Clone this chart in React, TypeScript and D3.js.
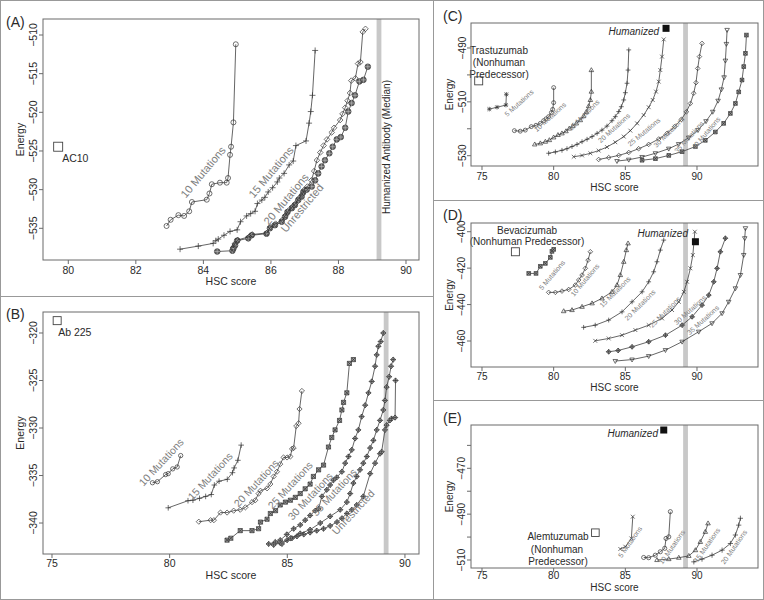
import React from "react";
import * as d3 from "d3";

type P = [number, number];

// ---------------- Panel A data ----------------
const A_ac10: P = [79.7, -524.45];
const A_mut10: P[] = [[82.91,-534.7],[83.03,-533.9],[83.26,-533.3],[83.43,-533.4],[83.58,-532.8],[83.66,-531.6],[84.1,-531.3],[84.18,-530.5],[84.25,-529.3],[84.49,-529.1],[84.69,-529.1],[84.73,-528.5],[84.79,-525.5],[84.82,-524.45],[84.89,-521.3],[84.96,-511.2]];
const A_mut15: P[] = [[83.31,-537.7],[83.85,-537.3],[84.29,-536.95],[84.37,-536.6],[84.44,-536.4],[84.61,-535.9],[84.79,-535.4],[85.0,-535.2],[85.1,-534.15],[85.28,-533.4],[85.4,-533.1],[85.53,-532.8],[85.6,-531.8],[85.73,-531.35],[85.82,-531.0],[85.92,-530.3],[86.05,-529.75],[86.19,-529.0],[86.25,-528.5],[86.39,-527.9],[86.54,-526.8],[86.66,-526.3],[86.74,-524.3],[87.04,-523.7],[87.13,-521.4],[87.18,-519.9],[87.23,-517.8],[87.31,-512.0]];
const A_mut20: P[] = [[84.88,-537.5],[84.93,-537.0],[85.02,-536.5],[85.35,-536.1],[85.45,-535.8],[85.88,-535.6],[85.99,-534.8],[86.14,-534.4],[86.34,-533.9],[86.44,-533.3],[86.52,-532.7],[86.64,-532.2],[86.73,-531.8],[86.83,-531.1],[86.93,-530.6],[86.99,-530.0],[87.08,-529.6],[87.2,-528.8],[87.28,-527.6],[87.36,-526.2],[87.46,-525.2],[87.56,-524.3],[87.66,-523.5],[87.8,-522.6],[87.87,-522.0],[88.05,-521.0],[88.12,-520.2],[88.2,-519.4],[88.27,-518.5],[88.34,-517.5],[88.38,-515.9],[88.5,-515.6],[88.58,-513.7],[88.65,-513.5],[88.72,-509.6],[88.8,-509.2]];
const A_unres: P[] = [[84.41,-538.0],[84.86,-537.9],[84.89,-537.6],[84.94,-537.2],[85.0,-536.6],[85.33,-536.3],[85.43,-535.9],[85.87,-535.7],[85.97,-535.0],[86.12,-534.6],[86.32,-534.15],[86.42,-533.5],[86.49,-532.9],[86.62,-532.4],[86.71,-532.0],[86.81,-531.35],[86.91,-530.9],[86.96,-530.3],[87.06,-530.0],[87.21,-529.6],[87.31,-528.8],[87.4,-527.9],[87.5,-527.0],[87.6,-526.2],[87.73,-525.3],[87.83,-524.45],[87.95,-523.5],[88.07,-523.2],[88.2,-522.0],[88.29,-519.9],[88.39,-518.8],[88.49,-517.8],[88.62,-516.0],[88.74,-515.8],[88.87,-514.1]];

// ---------------- Panel B data ----------------
const B_ab225: P = [75.22, -318.7];
const B_mut10: P[] = [[79.27,-335.76],[79.48,-335.65],[79.83,-334.9],[79.94,-334.8],[80.13,-334.3],[80.32,-334.1],[80.47,-332.9]];
const B_mut15: P[] = [[79.94,-338.4],[80.78,-337.65],[80.99,-337.6],[81.27,-337.4],[81.53,-337.2],[81.77,-337.0],[81.9,-336.0],[82.1,-335.6],[82.45,-335.4],[82.67,-334.7],[82.74,-334.2],[82.9,-333.4],[83.04,-331.8]];
const B_mut20: P[] = [[81.24,-339.86],[81.74,-339.7],[81.88,-339.7],[82.16,-338.9],[82.44,-338.9],[82.72,-338.7],[83.0,-338.6],[83.22,-338.35],[83.5,-337.8],[83.64,-337.6],[83.78,-336.9],[83.86,-336.6],[84.14,-336.35],[84.28,-335.9],[84.42,-335.1],[84.56,-334.6],[84.7,-333.8],[84.84,-333.1],[84.99,-333.1],[85.13,-333.0],[85.2,-332.2],[85.27,-332.1],[85.38,-329.8],[85.48,-329.5],[85.52,-328.0],[85.62,-326.1]];
const B_mut25: P[] = [[82.44,-341.8],[82.6,-341.6],[83.0,-340.8],[83.5,-340.8],[83.78,-340.6],[83.86,-339.9],[84.14,-339.6],[84.28,-339.0],[84.5,-338.7],[84.7,-338.1],[84.92,-337.8],[85.13,-337.6],[85.34,-337.3],[85.55,-336.9],[85.76,-336.4],[85.97,-335.9],[86.11,-335.1],[86.33,-334.4],[86.54,-333.9],[86.75,-332.0],[86.89,-331.0],[87.03,-330.2],[87.22,-329.2],[87.32,-328.1],[87.39,-327.3],[87.53,-326.3],[87.64,-323.2],[87.81,-322.8]];
const B_mut30: P[] = [[84.21,-342.2],[84.49,-342.0],[84.7,-341.8],[84.98,-341.2],[85.27,-340.6],[85.55,-340.2],[85.76,-339.7],[85.97,-339.2],[86.19,-338.7],[86.33,-338.5],[86.47,-337.2],[86.68,-336.5],[86.82,-336.0],[86.96,-335.5],[87.1,-335.2],[87.32,-334.6],[87.46,-333.7],[87.6,-333.0],[87.74,-332.3],[87.88,-331.1],[88.02,-330.2],[88.16,-328.8],[88.31,-327.6],[88.45,-326.3],[88.59,-325.1],[88.73,-323.5],[88.8,-322.3],[88.87,-321.4],[88.97,-320.9],[89.08,-320.0]];
const B_mut35: P[] = [[84.77,-342.2],[85.13,-341.6],[85.55,-341.1],[85.97,-340.7],[86.4,-340.0],[86.82,-339.3],[87.25,-338.6],[87.53,-337.8],[87.67,-336.9],[87.81,-335.8],[87.95,-335.1],[88.09,-334.4],[88.23,-333.7],[88.38,-333.0],[88.52,-332.1],[88.66,-331.3],[88.8,-330.2],[88.94,-329.2],[89.08,-328.1],[89.15,-327.1],[89.22,-325.7],[89.33,-324.6],[89.41,-323.5],[89.5,-322.8]];
const B_unres: P[] = [[84.42,-342.3],[84.7,-342.1],[84.99,-341.8],[85.2,-341.6],[85.41,-341.4],[85.7,-341.2],[85.97,-341.0],[86.25,-340.8],[86.54,-340.6],[86.82,-340.3],[87.11,-339.9],[87.32,-339.5],[87.53,-339.0],[87.74,-338.6],[87.95,-338.1],[88.23,-337.2],[88.52,-334.8],[88.73,-333.7],[88.94,-332.7],[89.01,-332.5],[89.15,-330.2],[89.22,-329.7],[89.36,-329.2],[89.43,-329.0],[89.58,-328.9],[89.6,-325.0]];

// ---------------- Panel C data ----------------
const C_trast: P = [74.77, -502.2];
const C_human: P = [87.84, -482.7];
const C_mut5: P[] = [[75.51,-512.7],[76.05,-512.0],[76.67,-511.2],[76.7,-507.2]];
const C_mut10: P[] = [[77.26,-520.7],[77.67,-520.9],[78.02,-520.5],[78.44,-519.2],[78.77,-518.7],[79.07,-518.0],[79.3,-517.0],[79.47,-516.3],[79.65,-515.5],[79.84,-514.0],[79.93,-512.8],[80.0,-510.3],[80.0,-504.7]];
const C_mut15: P[] = [[78.68,-525.8],[79.07,-525.4],[79.42,-524.8],[79.7,-524.2],[80.0,-523.2],[80.3,-522.3],[80.58,-521.7],[80.86,-520.9],[81.09,-519.9],[81.33,-519.0],[81.58,-518.0],[81.86,-516.8],[82.09,-515.3],[82.28,-513.7],[82.44,-511.6],[82.56,-509.3],[82.63,-506.2],[82.63,-498.2]];
const C_mut20: P[] = [[79.65,-529.1],[80.12,-528.6],[80.58,-528.0],[80.93,-527.4],[81.28,-526.6],[81.63,-525.8],[81.98,-524.8],[82.33,-523.9],[82.68,-522.9],[83.03,-521.7],[83.37,-520.5],[83.72,-519.0],[84.07,-517.0],[84.3,-515.5],[84.54,-513.6],[84.72,-511.8],[84.89,-509.3],[85.0,-506.6],[85.12,-503.1],[85.19,-498.2],[85.24,-490.7]];
const C_mut25: P[] = [[81.4,-530.4],[81.98,-529.9],[82.56,-529.1],[83.14,-528.1],[83.72,-526.8],[84.3,-525.0],[84.89,-522.9],[85.35,-520.7],[85.82,-518.0],[86.28,-514.9],[86.63,-512.0],[86.91,-509.3],[87.14,-506.2],[87.33,-502.5],[87.44,-498.2],[87.56,-493.2],[87.68,-486.8]];
const C_mut30: P[] = [[83.14,-531.4],[83.84,-530.7],[84.54,-529.9],[85.24,-528.8],[85.93,-527.4],[86.63,-525.8],[87.33,-523.8],[87.91,-521.7],[88.45,-519.2],[88.91,-516.5],[89.26,-513.7],[89.54,-510.6],[89.77,-506.8],[89.93,-502.9],[90.05,-497.6],[90.17,-493.2],[90.35,-488.3]];
const C_mut35: P[] = [[84.42,-532.0],[85.24,-531.5],[86.17,-530.5],[87.1,-529.1],[88.03,-527.4],[88.72,-525.7],[89.42,-523.3],[90.07,-520.5],[90.63,-517.2],[91.1,-513.7],[91.47,-509.6],[91.7,-505.4],[91.89,-500.9],[91.98,-494.7],[92.05,-488.5],[92.1,-483.3]];
const C_mut40: P[] = [[86.17,-531.7],[87.1,-531.1],[88.03,-529.9],[88.96,-528.5],[89.89,-526.6],[90.58,-524.3],[91.28,-521.2],[91.86,-518.0],[92.33,-514.3],[92.68,-510.6],[92.91,-506.3],[93.14,-501.9],[93.26,-496.9],[93.38,-492.0],[93.45,-485.2]];

// ---------------- Panel D data ----------------
const D_bev: P = [77.33, -411.0];
const D_human: P = [89.89, -405.5];
const D_mut5: P[] = [[78.26,-422.9],[78.77,-422.9],[79.07,-419.0],[79.42,-417.4],[79.77,-414.1],[79.88,-410.8],[80.0,-409.7]];
const D_mut10: P[] = [[79.65,-433.3],[80.12,-433.3],[80.58,-432.6],[81.05,-431.7],[81.51,-429.3],[81.75,-426.5],[81.98,-423.8],[82.21,-420.1],[82.4,-415.6],[82.56,-411.0]];
const D_mut15: P[] = [[80.7,-443.6],[81.28,-443.0],[81.98,-441.2],[82.68,-439.3],[83.37,-436.6],[84.07,-433.0],[84.42,-429.3],[84.65,-423.8],[84.89,-416.5],[85.07,-410.1],[85.19,-406.4]];
const D_mut20: P[] = [[82.09,-452.5],[82.9,-451.3],[83.84,-448.5],[84.77,-444.0],[85.47,-438.5],[86.17,-433.0],[86.63,-427.5],[86.98,-422.0],[87.21,-416.5],[87.44,-410.1],[87.68,-404.6]];
const D_mut25: P[] = [[82.9,-459.9],[83.84,-458.6],[84.77,-456.8],[85.7,-454.0],[86.63,-451.3],[87.56,-447.6],[88.26,-443.0],[88.73,-438.5],[89.08,-433.0],[89.31,-427.5],[89.54,-420.1],[89.71,-412.8],[89.85,-400.0]];
const D_mut30: P[] = [[83.84,-465.9],[84.5,-465.2],[85.47,-463.2],[86.63,-460.4],[87.8,-456.8],[88.96,-451.3],[89.66,-446.7],[90.35,-440.3],[90.82,-434.8],[91.17,-427.5],[91.4,-420.1],[91.63,-411.0],[91.98,-403.6]];
const D_mut35: P[] = [[84.3,-471.0],[85.47,-470.2],[86.63,-468.3],[87.8,-465.0],[88.96,-460.4],[90.12,-454.9],[91.05,-450.3],[91.75,-444.8],[92.21,-438.5],[92.68,-431.1],[93.03,-423.8],[93.26,-412.8],[93.33,-403.6],[93.38,-398.1]];

// ---------------- Panel E data ----------------
const E_alem: P = [82.91, -498.1];
const E_human: P = [87.68, -453.3];
const E_mut5: P[] = [[84.65,-505.2],[85.0,-504.2],[85.42,-500.6],[85.52,-491.1]];
const E_mut10: P[] = [[86.28,-508.9],[86.63,-509.0],[87.09,-507.9],[87.44,-506.4],[87.75,-504.9],[87.84,-500.6],[88.03,-499.9],[88.14,-488.9]];
const E_mut15: P[] = [[87.21,-510.0],[88.03,-509.6],[88.73,-509.0],[89.43,-508.2],[89.89,-505.7],[90.23,-502.1],[90.58,-497.7],[90.77,-494.0]];
const E_mut20: P[] = [[89.78,-510.8],[90.35,-509.6],[91.05,-507.9],[91.75,-505.7],[92.33,-502.8],[92.68,-499.1],[92.91,-494.8],[93.03,-491.8]];

// Tick values
const A_xTicks = [80, 82, 84, 86, 88, 90];
const A_yTicks = [-535, -530, -525, -520, -515, -510];
const B_xTicks = [75, 80, 85, 90];
const B_yTicks = [-340, -335, -330, -325, -320];
const R_xTicks = [75, 80, 85, 90];
const C_yTicks = [-530, -520, -510, -500, -490];
const C_yLabels = [-530, -510, -490];
const D_yTicks = [-460, -440, -420, -400];
const E_yTicks = [-510, -500, -490, -480, -470, -460];
const E_yLabels = [-510, -490, -470];
const HUMAN_MEDIAN = 89.2;

const FONT = '"Liberation Sans", Arial, Helvetica, sans-serif';
const INK = "#2a2a2a";
const GRAYTXT = "#7d7d7d";

type MType = "circle" | "plus" | "cross" | "star" | "diamond" | "triangle" | "tridown" | "sqx" | "diamondplus" | "circleplus" | "dcircle";

function Marker({ t, x, y, s }: { t: MType; x: number; y: number; s: number }) {
  const st = { stroke: "#333", strokeWidth: 0.7, fill: "none" } as any;
  const plus = `M${x - s},${y}H${x + s}M${x},${y - s}V${y + s}`;
  const cross = `M${x - s * 0.8},${y - s * 0.8}L${x + s * 0.8},${y + s * 0.8}M${x - s * 0.8},${y + s * 0.8}L${x + s * 0.8},${y - s * 0.8}`;
  const diamond = `M${x},${y - s}L${x + s},${y}L${x},${y + s}L${x - s},${y}Z`;
  switch (t) {
    case "circle":
      return <circle cx={x} cy={y} r={s * 0.9} {...st} />;
    case "plus":
      return <path d={plus} {...st} />;
    case "cross":
      return <path d={cross} {...st} />;
    case "star":
      return <path d={plus + cross} {...st} />;
    case "diamond":
      return <path d={diamond} {...st} />;
    case "triangle":
      return <path d={`M${x},${y - s}L${x + s * 0.95},${y + s * 0.65}L${x - s * 0.95},${y + s * 0.65}Z`} {...st} />;
    case "tridown":
      return <path d={`M${x},${y + s}L${x + s * 0.95},${y - s * 0.65}L${x - s * 0.95},${y - s * 0.65}Z`} {...st} />;
    case "sqx":
      return <path d={`M${x - s * 0.8},${y - s * 0.8}h${s * 1.6}v${s * 1.6}h${-s * 1.6}Z` + cross} {...st} fill="#999" />;
    case "diamondplus":
      return <path d={diamond + plus} {...st} fill="#aaa" />;
    case "circleplus":
      return (
        <g>
          <circle cx={x} cy={y} r={s} {...st} fill="#666" />
          <path d={plus} stroke="#ccc" strokeWidth={0.5} />
        </g>
      );
    case "dcircle":
      return <circle cx={x} cy={y} r={s * 0.9} {...st} fill="#888" />;
  }
  return null;
}

type Series = { pts: P[]; m: MType; s: number };
type Lbl = { text: string; x: number; y: number; rot: number; fs: number };

interface PanelProps {
  box: { l: number; t: number; r: number; b: number };
  xDom: [number, number];
  yDom: [number, number];
  xTicks: number[];
  yTicks: number[];
  yLabels: number[];
  series: Series[];
  labels: Lbl[];
  xLabY: number;
  xTitleY: number;
  yLabX: number;
  yTitleX: number;
  fs: number;
  children?: (x: d3.ScaleLinear<number, number>, y: d3.ScaleLinear<number, number>) => React.ReactNode;
}

function Panel(p: PanelProps) {
  const { box } = p;
  const x = d3.scaleLinear().domain(p.xDom).range([box.l, box.r]);
  const y = d3.scaleLinear().domain(p.yDom).range([box.b, box.t]);
  const line = d3.line<P>().x((d) => x(d[0])).y((d) => y(d[1]));
  const fmt = d3.format("d");
  const bx = x(HUMAN_MEDIAN);
  return (
    <g fontFamily={FONT}>
      <rect x={bx - 2.4} y={box.t} width={4.8} height={box.b - box.t} fill="#c8c8c8" />
      {p.series.map((s, i) => (
        <g key={i}>
          <path d={line(s.pts) || ""} fill="none" stroke="#333" strokeWidth={0.75} />
          {s.pts.map((d, j) => (
            <Marker key={j} t={s.m} x={x(d[0])} y={y(d[1])} s={s.s} />
          ))}
        </g>
      ))}
      {p.labels.map((l, i) => (
        <text key={i} x={l.x} y={l.y} fontSize={l.fs} fill={GRAYTXT} textAnchor="middle" dominantBaseline="central" transform={`rotate(${l.rot},${l.x},${l.y})`}>
          {l.text}
        </text>
      ))}
      {p.children && p.children(x, y)}
      <rect x={box.l} y={box.t} width={box.r - box.l} height={box.b - box.t} fill="none" stroke="#6a6a6a" strokeWidth={1} />
      {p.xTicks.map((v) => (
        <g key={"x" + v}>
          <line x1={x(v)} x2={x(v)} y1={box.b} y2={box.b + 4} stroke="#6a6a6a" />
          <text x={x(v)} y={p.xLabY} fontSize={p.fs} fill={INK} textAnchor="middle">{fmt(v)}</text>
        </g>
      ))}
      {p.yTicks.map((v) => (
        <g key={"y" + v}>
          <line x1={box.l - 4} x2={box.l} y1={y(v)} y2={y(v)} stroke="#6a6a6a" />
          {p.yLabels.includes(v) && (
            <text x={p.yLabX} y={y(v)} fontSize={p.fs} fill={INK} textAnchor="middle" transform={`rotate(-90,${p.yLabX},${y(v)})`}>{fmt(v)}</text>
          )}
        </g>
      ))}
      <text x={(box.l + box.r) / 2} y={p.xTitleY} fontSize={p.fs} fill={INK} textAnchor="middle">HSC score</text>
      <text x={p.yTitleX} y={(box.t + box.b) / 2} fontSize={p.fs} fill={INK} textAnchor="middle" transform={`rotate(-90,${p.yTitleX},${(box.t + box.b) / 2})`}>Energy</text>
    </g>
  );
}

function OpenSq({ x, y, s }: { x: number; y: number; s: number }) {
  return <rect x={x - s} y={y - s} width={2 * s} height={2 * s} fill="none" stroke="#444" strokeWidth={0.9} />;
}
function FillSq({ x, y, s }: { x: number; y: number; s: number }) {
  return <rect x={x - s} y={y - s} width={2 * s} height={2 * s} fill="#111" />;
}

export default function App() {
  const W = 764, H = 600;
  const mutLbl = (n: number) => `${n} Mutations`;
  return (
    <svg width={W} height={H} style={{ position: "absolute", left: 0, top: 0, background: "#fff" }}>
      <rect x={0.5} y={0.5} width={W - 1} height={H - 1} fill="#fff" stroke="#999" />
      <line x1={433.5} x2={433.5} y1={0} y2={H} stroke="#999" />
      <line x1={0} x2={433.5} y1={296.5} y2={296.5} stroke="#999" />
      <line x1={433.5} x2={W} y1={200.5} y2={200.5} stroke="#999" />
      <line x1={433.5} x2={W} y1={400.5} y2={400.5} stroke="#999" />

      {/* Panel A */}
      <Panel
        box={{ l: 43, t: 19, r: 419, b: 260 }}
        xDom={[79.251, 90.385]}
        yDom={[-539.1, -507.93]}
        xTicks={A_xTicks}
        yTicks={A_yTicks}
        yLabels={A_yTicks}
        series={[
          { pts: A_mut10, m: "circle", s: 2.8 },
          { pts: A_mut15, m: "plus", s: 3 },
          { pts: A_unres, m: "circleplus", s: 2.8 },
          { pts: A_mut20, m: "diamond", s: 2.8 },
        ]}
        labels={[
          { text: mutLbl(10), x: 203, y: 172, rot: -50, fs: 11 },
          { text: mutLbl(15), x: 271, y: 172, rot: -50, fs: 11 },
          { text: mutLbl(20), x: 286, y: 199, rot: -50, fs: 11 },
          { text: "Unrestricted", x: 302, y: 208, rot: -50, fs: 11 },
        ]}
        xLabY={273.5}
        xTitleY={285}
        yLabX={37}
        yTitleX={24}
        fs={10.5}
      >
        {(x, y) => (
          <g>
            <OpenSq x={x(A_ac10[0])} y={y(A_ac10[1])} s={4.5} />
            <text x={x(A_ac10[0]) + 4} y={y(A_ac10[1]) + 15} fontSize={10.5} fill={INK}>AC10</text>
            <text x={x(HUMAN_MEDIAN) + 11} y={147} fontSize={10} fill={INK} textAnchor="middle" transform={`rotate(-90,${x(HUMAN_MEDIAN) + 11},147)`}>
              Humanized Antibody (Median)
            </text>
          </g>
        )}
      </Panel>
      <text x={6} y={27} fontSize={14} fontFamily={FONT} fill={INK}>(A)</text>

      {/* Panel B */}
      <Panel
        box={{ l: 43, t: 312, r: 419, b: 554 }}
        xDom={[74.618, 90.597]}
        yDom={[-343.26, -317.79]}
        xTicks={B_xTicks}
        yTicks={B_yTicks}
        yLabels={B_yTicks}
        series={[
          { pts: B_mut10, m: "circle", s: 2.4 },
          { pts: B_mut15, m: "plus", s: 2.8 },
          { pts: B_mut20, m: "diamond", s: 2.6 },
          { pts: B_mut25, m: "sqx", s: 2.6 },
          { pts: B_mut30, m: "diamondplus", s: 2.6 },
          { pts: B_unres, m: "diamondplus", s: 2.6 },
          { pts: B_mut35, m: "diamondplus", s: 2.6 },
        ]}
        labels={[
          { text: mutLbl(10), x: 161, y: 462, rot: -47, fs: 10.5 },
          { text: mutLbl(15), x: 210, y: 476, rot: -47, fs: 10.5 },
          { text: mutLbl(20), x: 256, y: 483, rot: -47, fs: 10.5 },
          { text: mutLbl(25), x: 290, y: 485, rot: -47, fs: 10.5 },
          { text: mutLbl(30), x: 310, y: 496, rot: -47, fs: 10.5 },
          { text: mutLbl(35), x: 334, y: 492, rot: -47, fs: 10.5 },
          { text: "Unrestricted", x: 353, y: 512, rot: -47, fs: 10.5 },
        ]}
        xLabY={566.5}
        xTitleY={578.5}
        yLabX={37}
        yTitleX={24}
        fs={10.5}
      >
        {(x, y) => (
          <g>
            <OpenSq x={x(B_ab225[0])} y={y(B_ab225[1])} s={4} />
            <text x={x(B_ab225[0]) + 1} y={y(B_ab225[1]) + 15} fontSize={10.5} fill={INK}>Ab 225</text>
          </g>
        )}
      </Panel>
      <text x={6} y={319} fontSize={14} fontFamily={FONT} fill={INK}>(B)</text>

      {/* Panel C */}
      <Panel
        box={{ l: 471, t: 23, r: 758, b: 166 }}
        xDom={[74.233, 94.256]}
        yDom={[-533.83, -480.715]}
        xTicks={R_xTicks}
        yTicks={C_yTicks}
        yLabels={C_yLabels}
        series={[
          { pts: C_mut5, m: "star", s: 2.3 },
          { pts: C_mut10, m: "circle", s: 2.2 },
          { pts: C_mut15, m: "triangle", s: 2.4 },
          { pts: C_mut20, m: "plus", s: 2.4 },
          { pts: C_mut25, m: "cross", s: 2.4 },
          { pts: C_mut30, m: "diamond", s: 2.3 },
          { pts: C_mut35, m: "tridown", s: 2.4 },
          { pts: C_mut40, m: "sqx", s: 2.3 },
        ]}
        labels={[
          { text: mutLbl(5), x: 519, y: 103, rot: -42, fs: 7 },
          { text: mutLbl(10), x: 550, y: 117, rot: -42, fs: 7 },
          { text: mutLbl(15), x: 584, y: 115, rot: -45, fs: 7 },
          { text: mutLbl(20), x: 614, y: 128, rot: -42, fs: 7 },
          { text: mutLbl(25), x: 644, y: 132, rot: -40, fs: 7 },
          { text: mutLbl(30), x: 669, y: 132, rot: -45, fs: 7 },
          { text: mutLbl(35), x: 689, y: 137, rot: -48, fs: 7 },
          { text: mutLbl(40), x: 706, y: 133, rot: -50, fs: 7 },
        ]}
        xLabY={179.5}
        xTitleY={191}
        yLabX={466}
        yTitleX={452.5}
        fs={10}
      >
        {(x, y) => (
          <g>
            <OpenSq x={x(C_trast[0])} y={y(C_trast[1])} s={4} />
            <text x={499} y={53.5} fontSize={10} fill={INK} textAnchor="middle">Trastuzumab</text>
            <text x={499} y={65.5} fontSize={10} fill={INK} textAnchor="middle">(Nonhuman</text>
            <text x={499} y={77.5} fontSize={10} fill={INK} textAnchor="middle">Predecessor)</text>
            <FillSq x={x(C_human[0])} y={y(C_human[1])} s={3.5} />
            <text x={x(C_human[0]) - 7} y={y(C_human[1]) + 7} fontSize={10} fontStyle="italic" fill={INK} textAnchor="end">Humanized</text>
          </g>
        )}
      </Panel>
      <text x={443} y={21} fontSize={14} fontFamily={FONT} fill={INK}>(C)</text>

      {/* Panel D */}
      <Panel
        box={{ l: 471, t: 223, r: 758, b: 367 }}
        xDom={[74.233, 94.256]}
        yDom={[-474.27, -395.22]}
        xTicks={R_xTicks}
        yTicks={D_yTicks}
        yLabels={D_yTicks}
        series={[
          { pts: D_mut5, m: "sqx", s: 2.3 },
          { pts: D_mut10, m: "diamond", s: 2.3 },
          { pts: D_mut15, m: "triangle", s: 2.4 },
          { pts: D_mut20, m: "plus", s: 2.4 },
          { pts: D_mut25, m: "cross", s: 2.4 },
          { pts: D_mut30, m: "diamondplus", s: 2.4 },
          { pts: D_mut35, m: "tridown", s: 2.4 },
        ]}
        labels={[
          { text: mutLbl(5), x: 552, y: 275, rot: -50, fs: 7 },
          { text: mutLbl(10), x: 585, y: 280, rot: -50, fs: 7 },
          { text: mutLbl(15), x: 615, y: 292, rot: -45, fs: 7 },
          { text: mutLbl(20), x: 640, y: 305, rot: -45, fs: 7 },
          { text: mutLbl(25), x: 665, y: 312, rot: -45, fs: 7 },
          { text: mutLbl(30), x: 690, y: 310, rot: -42, fs: 7 },
          { text: mutLbl(35), x: 703, y: 320, rot: -42, fs: 7 },
        ]}
        xLabY={379.5}
        xTitleY={391}
        yLabX={465}
        yTitleX={452.5}
        fs={10}
      >
        {(x, y) => (
          <g>
            <OpenSq x={x(D_bev[0])} y={y(D_bev[1])} s={4} />
            <text x={527} y={233.5} fontSize={10} fill={INK} textAnchor="middle">Bevacizumab</text>
            <text x={527} y={245} fontSize={10} fill={INK} textAnchor="middle">(Nonhuman Predecessor)</text>
            <FillSq x={x(D_human[0])} y={y(D_human[1])} s={3.5} />
            <text x={688} y={237} fontSize={10} fontStyle="italic" fill={INK} textAnchor="end">Humanized</text>
          </g>
        )}
      </Panel>
      <text x={443} y={220} fontSize={14} fontFamily={FONT} fill={INK}>(D)</text>

      {/* Panel E */}
      <Panel
        box={{ l: 471, t: 425, r: 758, b: 568 }}
        xDom={[74.233, 94.256]}
        yDom={[-513.49, -451.11]}
        xTicks={R_xTicks}
        yTicks={E_yTicks}
        yLabels={E_yLabels}
        series={[
          { pts: E_mut5, m: "cross", s: 2.4 },
          { pts: E_mut10, m: "circle", s: 2.3 },
          { pts: E_mut15, m: "triangle", s: 2.4 },
          { pts: E_mut20, m: "plus", s: 2.6 },
        ]}
        labels={[
          { text: mutLbl(5), x: 630, y: 542, rot: -55, fs: 7 },
          { text: mutLbl(10), x: 672, y: 547, rot: -55, fs: 7 },
          { text: mutLbl(15), x: 707, y: 545, rot: -55, fs: 7 },
          { text: mutLbl(20), x: 734, y: 547, rot: -55, fs: 7 },
        ]}
        xLabY={579}
        xTitleY={591}
        yLabX={465}
        yTitleX={452.5}
        fs={10}
      >
        {(x, y) => (
          <g>
            <OpenSq x={x(E_alem[0])} y={y(E_alem[1])} s={3.8} />
            <text x={558} y={540} fontSize={10} fill={INK} textAnchor="middle">Alemtuzumab</text>
            <text x={557} y={553} fontSize={10} fill={INK} textAnchor="middle">(Nonhuman</text>
            <text x={558} y={565} fontSize={10} fill={INK} textAnchor="middle">Predecessor)</text>
            <FillSq x={x(E_human[0])} y={y(E_human[1])} s={3.5} />
            <text x={658} y={437} fontSize={10} fontStyle="italic" fill={INK} textAnchor="end">Humanized</text>
          </g>
        )}
      </Panel>
      <text x={443} y={423} fontSize={14} fontFamily={FONT} fill={INK}>(E)</text>
    </svg>
  );
}
